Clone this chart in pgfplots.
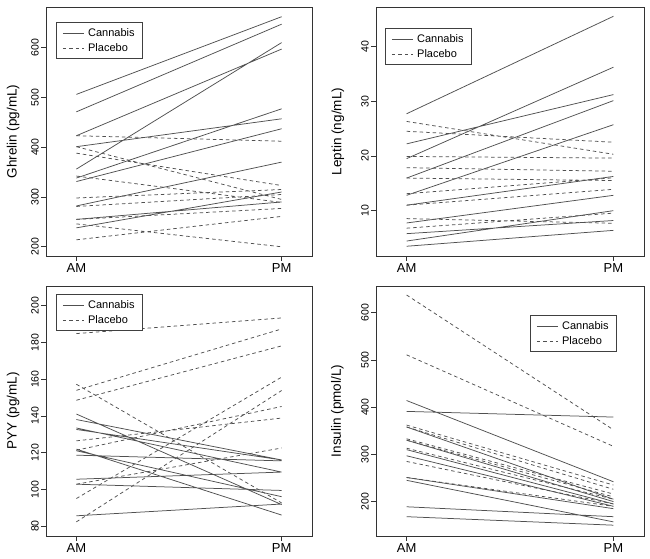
\documentclass[border=0pt]{standalone}
\usepackage{fontspec}
\setmainfont{Liberation Sans}
\usepackage{pgfplots}
\pgfplotsset{compat=1.18}
\definecolor{ln}{RGB}{80,80,80}
\pgfplotsset{
  rpanel/.style={
    scale only axis, width=266pt, height=249pt,
    xmin=0.852, xmax=2.148,
    xtick={1,2}, xticklabels={AM,PM},
    xtick pos=bottom, ytick pos=left,
    tick align=outside, major tick length=5pt,
    axis line style={black!80, line width=0.7pt},
    every tick/.style={black!80, line width=0.6pt},
    /pgf/number format/assume math mode=true,
    x tick label style={font=\fontsize{13}{14}\selectfont, inner sep=2pt},
    y tick label style={font=\fontsize{10.5}{12}\selectfont, rotate=90, anchor=south, inner sep=2pt},
    ylabel style={font=\fontsize{13.5}{15}\selectfont},
    unbounded coords=jump,
    legend cell align=left,
    legend image code/.code={\draw[##1] (0pt,0pt) -- (21pt,0pt);},
    legend style={draw=black!75, line width=0.6pt, font=\fontsize{11}{13}\selectfont,
      inner xsep=6pt, inner ysep=4pt, row sep=1.5pt, anchor=north west,
      nodes={inner xsep=4pt}, text width=44pt},
  },
  cann/.style={ln, line width=0.75pt, solid},
  plac/.style={ln, line width=0.75pt, dash pattern=on 3.5pt off 3pt},
}
\begin{document}
\begin{tikzpicture}
\useasboundingbox (0,0) rectangle (650pt,559pt);
% Ghrelin
\begin{axis}[rpanel, at={(46pt,303pt)}, anchor=south west,
  ymin=181.5, ymax=681.5, ytick={200,300,400,500,600},
  ylabel={Ghrelin (pg/mL)},
  ylabel style={at={(axis description cs:-0.124,0.5)}, anchor=center},
  legend style={at={(axis description cs:0.038,0.94)}}]
\addlegendimage{cann}\addlegendentry{Cannabis}
\addlegendimage{plac}\addlegendentry{Placebo}
\addplot[cann] coordinates {(1,506)(2,662)(1,nan)(1,471)(2,647)(1,nan)(1,423)(2,597)(1,nan)(1,356)(2,610)(1,nan)(1,401)(2,457)(1,nan)(1,338)(2,477)(1,nan)(1,331)(2,437)(1,nan)(1,282)(2,370)(1,nan)(1,255)(2,290)(1,nan)(1,238)(2,310)};
\addplot[plac] coordinates {(1,423)(2,412)(1,nan)(1,401)(2,295)(1,nan)(1,388)(2,323)(1,nan)(1,342)(2,289)(1,nan)(1,298)(2,315)(1,nan)(1,281)(2,305)(1,nan)(1,255)(2,277)(1,nan)(1,246)(2,200)(1,nan)(1,214)(2,261)};
\end{axis}
% Leptin
\begin{axis}[rpanel, at={(376pt,303pt)}, anchor=south west, width=268pt,
  ymin=1.72, ymax=47.2, ytick={10,20,30,40},
  ylabel={Leptin (ng/mL)},
  ylabel style={at={(axis description cs:-0.142,0.5)}, anchor=center},
  legend style={at={(axis description cs:0.034,0.916)}}]
\addlegendimage{cann}\addlegendentry{Cannabis}
\addlegendimage{plac}\addlegendentry{Placebo}
\addplot[cann] coordinates {(1,27.7)(2,45.5)(1,nan)(1,22.2)(2,31.2)(1,nan)(1,19.5)(2,36.2)(1,nan)(1,15.95)(2,30.1)(1,nan)(1,12.8)(2,25.7)(1,nan)(1,11.0)(2,16.25)(1,nan)(1,7.75)(2,12.8)(1,nan)(1,5.8)(2,8.2)(1,nan)(1,4.45)(2,10.0)(1,nan)(1,3.5)(2,6.4)};
\addplot[plac] coordinates {(1,26.3)(2,20.3)(1,nan)(1,24.5)(2,22.5)(1,nan)(1,19.9)(2,19.6)(1,nan)(1,17.85)(2,17.2)(1,nan)(1,15.95)(2,15.5)(1,nan)(1,13.1)(2,16.0)(1,nan)(1,11.0)(2,13.9)(1,nan)(1,8.55)(2,7.7)(1,nan)(1,6.8)(2,9.55)};
\end{axis}
% PYY
\begin{axis}[rpanel, at={(46pt,23pt)}, anchor=south west, height=250pt,
  ymin=74.6, ymax=210.7, ytick={80,100,120,140,160,180,200},
  ylabel={PYY (pg/mL)},
  ylabel style={at={(axis description cs:-0.124,0.5)}, anchor=center},
  legend style={at={(axis description cs:0.038,0.968)}}]
\addlegendimage{cann}\addlegendentry{Cannabis}
\addlegendimage{plac}\addlegendentry{Placebo}
\addplot[cann] coordinates {(1,141)(2,91.7)(1,nan)(1,138)(2,116)(1,nan)(1,133.4)(2,109.4)(1,nan)(1,132.6)(2,116)(1,nan)(1,121.9)(2,86)(1,nan)(1,121)(2,96)(1,nan)(1,118.6)(2,115.5)(1,nan)(1,105.5)(2,109.4)(1,nan)(1,102.8)(2,99.4)(1,nan)(1,85.6)(2,92)};
\addplot[plac] coordinates {(1,184.8)(2,193.3)(1,nan)(1,153.9)(2,187.3)(1,nan)(1,148.5)(2,178.1)(1,nan)(1,157.2)(2,92.6)(1,nan)(1,95)(2,161.1)(1,nan)(1,82.3)(2,153.8)(1,nan)(1,126.4)(2,138.8)(1,nan)(1,121.3)(2,145.1)(1,nan)(1,102.8)(2,122.5)};
\end{axis}
% Insulin
\begin{axis}[rpanel, at={(376pt,23pt)}, anchor=south west, width=268pt, height=250pt,
  ymin=127.1, ymax=656.6, ytick={200,300,400,500,600},
  ylabel={Insulin (pmol/L)},
  ylabel style={at={(axis description cs:-0.144,0.5)}, anchor=center},
  legend style={at={(axis description cs:0.575,0.884)}}]
\addlegendimage{cann}\addlegendentry{Cannabis}
\addlegendimage{plac}\addlegendentry{Placebo}
\addplot[cann] coordinates {(1,414)(2,242)(1,nan)(1,391)(2,379)(1,nan)(1,358)(2,205)(1,nan)(1,330)(2,200)(1,nan)(1,310)(2,195)(1,nan)(1,297)(2,190)(1,nan)(1,251)(2,185)(1,nan)(1,245)(2,157)(1,nan)(1,189)(2,168)(1,nan)(1,168)(2,150)};
\addplot[plac] coordinates {(1,637.5)(2,352)(1,nan)(1,510.8)(2,317)(1,nan)(1,362)(2,235)(1,nan)(1,358)(2,226)(1,nan)(1,333)(2,216)(1,nan)(1,330)(2,210)(1,nan)(1,313)(2,205)(1,nan)(1,285)(2,195)(1,nan)(1,251)(2,190)};
\end{axis}
\end{tikzpicture}
\end{document}
